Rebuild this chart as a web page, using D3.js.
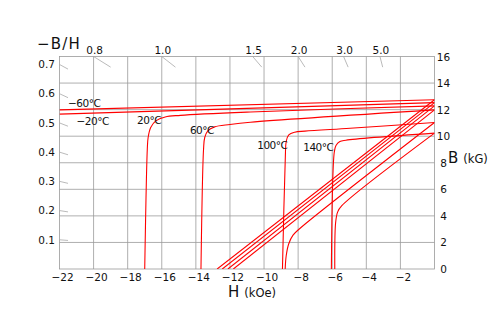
<!DOCTYPE html>
<html>
<head>
<meta charset="utf-8">
<script src="https://cdn.jsdelivr.net/npm/d3@7/dist/d3.min.js"></script>
<style>
  html, body { margin: 0; padding: 0; background: #fff; }
  svg { display: block; }
  text { font-family: "DejaVu Sans", sans-serif; fill: #111; }
</style>
</head>
<body>
<svg id="chart" width="501" height="329"></svg>
<script>
// Demagnetization curves: intrinsic (J–H, near-flat) and normal (B–H, diagonal)
// for six temperatures. Points are [H (kOe), B (kG)].
const tempLabels = ["\u221260\u00b0C", "\u221220\u00b0C", "20\u00b0C", "60\u00b0C", "100\u00b0C", "140\u00b0C"];

const intrinsicM60 = [[0, 12.74], [-22, 11.98]];
const intrinsicM20 = [[0, 12.53], [-22, 11.66]];
const intrinsic20  = [[0, 12.28], [-10.8, 11.82], [-14.9, 11.57], [-15.8, 11.45], [-16.35, 11.15], [-16.65, 10.65], [-16.8, 9.9], [-16.85, 9.0], [-17.0, 0]];
const intrinsic60  = [[0, 11.98], [-10.8, 11.05], [-12.0, 10.88], [-12.9, 10.7], [-13.3, 10.4], [-13.48, 9.9], [-13.55, 9.0], [-13.7, 0]];
const intrinsic100 = [[0, 11.03], [-4.95, 10.6], [-7.6, 10.38], [-8.2, 10.3], [-8.55, 10.1], [-8.7, 9.6], [-8.75, 8.5], [-8.92, 0]];
const intrinsic140 = [[0, 10.23], [-5.2, 9.7], [-5.55, 9.6], [-5.78, 9.3], [-5.88, 8.8], [-6.05, 0]];

const normalM60 = [[0, 12.74], [-12.75, 0]];
const normalM20 = [[0, 12.53], [-12.45, 0]];
const normal20  = [[0, 12.28], [-12.12, 0]];
const normal60  = [[0, 11.98], [-11.8, 0]];
const normal100 = [[0, 11.03], [-7.9, 3.05], [-8.3, 2.55], [-8.55, 1.9], [-8.7, 1.0], [-8.76, 0]];
const normal140 = [[0, 10.23], [-5.45, 4.75], [-5.68, 4.3], [-5.8, 3.5], [-5.85, 0]];

// Temperature label anchors [H, B]
const tempLabelPos = [[-21.5, 12.2], [-21.0, 10.85], [-17.45, 10.95], [-14.35, 10.2], [-10.4, 9.05], [-7.7, 8.9]];

// Axis ticks
const hTicks = [-22, -20, -18, -16, -14, -12, -10, -8, -6, -4, -2];
const bTicks = [0, 2, 4, 6, 8, 10, 12, 14, 16];
const leftPermeance = [0.1, 0.2, 0.3, 0.4, 0.5, 0.6, 0.7];
const topPermeance = [0.8, 1.0, 1.5, 2.0, 3.0, 5.0];

const svg = d3.select("#chart");
const x = d3.scaleLinear().domain([-22, 0]).range([59.5, 434.5]);
const y = d3.scaleLinear().domain([0, 16]).range([269, 56.5]);

const grid = "#9a9a9a";
const g = svg.append("g");

// Grid
g.selectAll("line.vg").data(hTicks.slice(1)).join("line")
  .attr("x1", d => x(d)).attr("x2", d => x(d))
  .attr("y1", y(0)).attr("y2", y(16))
  .attr("stroke", grid).attr("stroke-width", 0.8);
g.selectAll("line.hg").data(bTicks.slice(1, -1)).join("line")
  .attr("x1", x(-22)).attr("x2", x(0))
  .attr("y1", d => y(d)).attr("y2", d => y(d))
  .attr("stroke", grid).attr("stroke-width", 0.8);
g.append("rect")
  .attr("x", x(-22)).attr("y", y(16))
  .attr("width", x(0) - x(-22)).attr("height", y(0) - y(16))
  .attr("fill", "none").attr("stroke", grid).attr("stroke-width", 0.8);

// Permeance (−B/H) marks: short pieces of B = −p·H at the left and top edges
const tickColor = "#a8a8a8";
g.selectAll("line.lp").data(leftPermeance).join("line")
  .attr("x1", x(-22)).attr("y1", p => y(22 * p))
  .attr("x2", x(-21.5)).attr("y2", p => y(21.5 * p))
  .attr("stroke", tickColor).attr("stroke-width", 0.8);
g.selectAll("line.tp").data(topPermeance).join("line")
  .attr("x1", p => x(-16 / p)).attr("y1", y(16))
  .attr("x2", p => x(-15.2 / p)).attr("y2", y(15.2))
  .attr("stroke", tickColor).attr("stroke-width", 0.8);

// Curves
const line = d3.line().x(d => x(d[0])).y(d => y(d[1])).curve(d3.curveCatmullRom.alpha(0.5));
const curves = [intrinsicM60, intrinsicM20, intrinsic20, intrinsic60, intrinsic100, intrinsic140,
                normalM60, normalM20, normal20, normal60, normal100, normal140];
svg.append("clipPath").attr("id", "plotclip").append("rect")
  .attr("x", x(-22)).attr("y", y(16)).attr("width", x(0) - x(-22)).attr("height", y(0) - y(16));
g.append("g").attr("clip-path", "url(#plotclip)")
  .selectAll("path").data(curves).join("path")
  .attr("d", line).attr("fill", "none").attr("stroke", "#ff0000").attr("stroke-width", 1.1);

// Axis labels: H (bottom)
g.selectAll("text.ht").data(hTicks).join("text")
  .attr("x", d => x(d) + 3).attr("y", 280.5)
  .attr("text-anchor", "middle").attr("font-size", 10.5)
  .text(d => "\u2212" + Math.abs(d));

// B (right)
g.selectAll("text.bt").data(bTicks).join("text")
  .attr("x", 443.5).attr("y", d => y(d) + 4)
  .attr("text-anchor", "middle").attr("font-size", 10.5)
  .text(d => d);

// −B/H (left)
g.selectAll("text.lt").data(leftPermeance).join("text")
  .attr("x", 55).attr("y", p => y(22 * p) + 3.8)
  .attr("text-anchor", "end").attr("font-size", 10.5)
  .text(p => p.toFixed(1));

// −B/H (top)
g.selectAll("text.tt").data(topPermeance).join("text")
  .attr("x", p => x(-16 / p) + 1).attr("y", 53.5)
  .attr("text-anchor", "middle").attr("font-size", 10.5)
  .text(p => p.toFixed(1));

// Axis titles
g.append("text").attr("x", 37).attr("y", 48.5).attr("font-size", 15).attr("letter-spacing", 1.2)
  .text("\u2212B/H");
const hTitle = g.append("text").attr("x", 228).attr("y", 297);
hTitle.append("tspan").attr("font-size", 15).text("H");
hTitle.append("tspan").attr("font-size", 11.5).attr("dx", 5).text("(kOe)");
const bTitle = g.append("text").attr("x", 448).attr("y", 162.5);
bTitle.append("tspan").attr("font-size", 15).text("B");
bTitle.append("tspan").attr("font-size", 11.5).attr("dx", 5).text("(kG)");

// Temperature labels
g.selectAll("text.temp").data(tempLabels).join("text")
  .attr("x", (d, i) => x(tempLabelPos[i][0]))
  .attr("y", (d, i) => y(tempLabelPos[i][1]))
  .attr("font-size", 10.5).attr("letter-spacing", -0.5)
  .text(d => d);
</script>
</body>
</html>
